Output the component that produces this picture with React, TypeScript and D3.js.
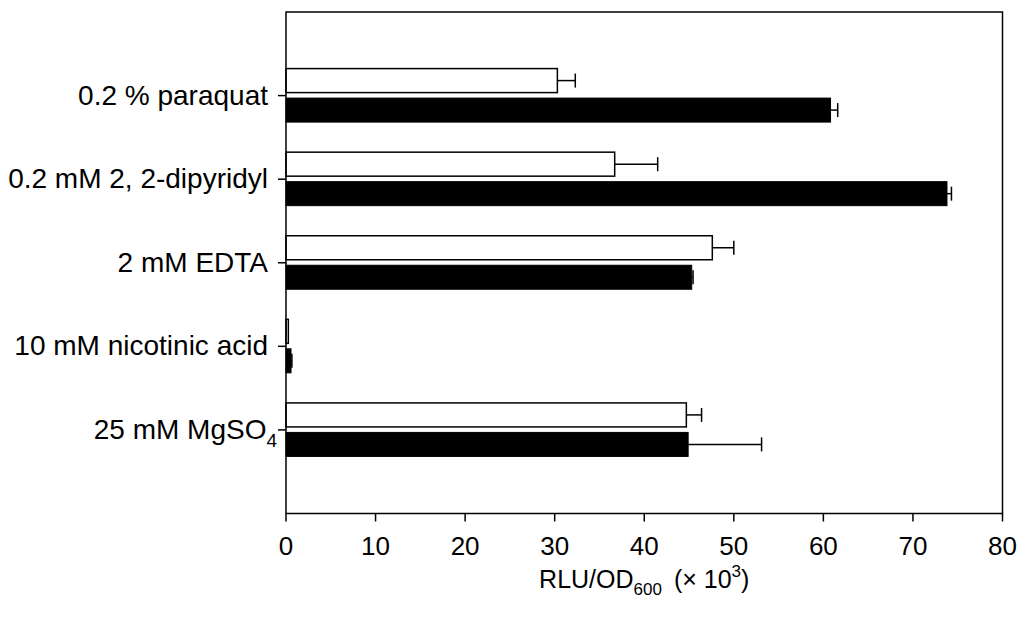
import React, { useEffect, useRef } from "react";
import * as d3 from "d3";

const categories = [
  "0.2 % paraquat",
  "0.2 mM 2, 2-dipyridyl",
  "2 mM EDTA",
  "10 mM nicotinic acid",
  "25 mM MgSO4",
];
const whiteValues = [30.3, 36.7, 47.6, 0.26, 44.7];
const whiteErrors = [2.0, 4.8, 2.4, 0, 1.7];
const blackValues = [60.8, 73.8, 45.3, 0.56, 44.9];
const blackErrors = [0.8, 0.5, 0.15, 0.1, 8.2];
const xTicks = [0, 10, 20, 30, 40, 50, 60, 70, 80];

export default function App() {
  const ref = useRef<SVGSVGElement>(null);

  const width = 1025;
  const height = 624;
  const margin = { top: 12, right: 22.5, bottom: 110.5, left: 286 };
  const font = "Liberation Sans, Arial, sans-serif";

  useEffect(() => {
    const svg = d3.select(ref.current);
    svg.selectAll("*").remove();

    const x = d3
      .scaleLinear()
      .domain([0, 80])
      .range([margin.left, width - margin.right]);
    const y = d3
      .scaleLinear()
      .domain([0, categories.length + 1])
      .range([margin.top, height - margin.bottom]);

    const barH = 24;
    const capH = 14;
    const rows = categories.map((c, i) => ({
      c,
      pos: y(i + 1),
      w: whiteValues[i],
      we: whiteErrors[i],
      b: blackValues[i],
      be: blackErrors[i],
    }));

    // error bars (drawn first so bars sit on top)
    const drawErr = (v: number, e: number, cy: number) => {
      if (e <= 0) return;
      svg.append("line")
        .attr("x1", x(v)).attr("x2", x(v + e))
        .attr("y1", cy).attr("y2", cy)
        .attr("stroke", "#000").attr("stroke-width", 1.5);
      svg.append("line")
        .attr("x1", x(v + e)).attr("x2", x(v + e))
        .attr("y1", cy - capH / 2).attr("y2", cy + capH / 2)
        .attr("stroke", "#000").attr("stroke-width", 1.5);
    };

    rows.forEach((r) => {
      drawErr(r.w, r.we, r.pos - 27 + barH / 2);
      drawErr(r.b, r.be, r.pos + 2.5 + barH / 2);

      svg.append("rect")
        .attr("x", x(0))
        .attr("y", r.pos - 27)
        .attr("width", x(r.w) - x(0))
        .attr("height", barH)
        .attr("fill", "#fff")
        .attr("stroke", "#000")
        .attr("stroke-width", 1.5);

      svg.append("rect")
        .attr("x", x(0))
        .attr("y", r.pos + 2.5)
        .attr("width", x(r.b) - x(0))
        .attr("height", barH)
        .attr("fill", "#000")
        .attr("stroke", "#000")
        .attr("stroke-width", 1);
    });

    // frame
    svg.append("rect")
      .attr("x", margin.left)
      .attr("y", margin.top)
      .attr("width", width - margin.left - margin.right)
      .attr("height", height - margin.top - margin.bottom)
      .attr("fill", "none")
      .attr("stroke", "#000")
      .attr("stroke-width", 1.5);

    // x axis
    const bottom = height - margin.bottom;
    const xg = svg.append("g");
    xTicks.forEach((t) => {
      xg.append("line")
        .attr("x1", x(t)).attr("x2", x(t))
        .attr("y1", bottom).attr("y2", bottom + 8)
        .attr("stroke", "#000").attr("stroke-width", 1.5);
      xg.append("text")
        .attr("x", x(t))
        .attr("y", bottom + 41)
        .attr("text-anchor", "middle")
        .attr("font-family", font)
        .attr("font-size", 26)
        .text(t);
    });

    // y axis ticks + labels
    rows.forEach((r) => {
      svg.append("line")
        .attr("x1", margin.left - 8).attr("x2", margin.left)
        .attr("y1", r.pos).attr("y2", r.pos)
        .attr("stroke", "#000").attr("stroke-width", 1.5);
      const isMg = r.c.endsWith("MgSO4");
      const t = svg.append("text")
        .attr("x", margin.left - (isMg ? 9 : 18))
        .attr("y", r.pos + 9)
        .attr("text-anchor", "end")
        .attr("font-family", font)
        .attr("font-size", 28);
      if (isMg) {
        t.append("tspan").text("25 mM MgSO");
        t.append("tspan").attr("font-size", 19).attr("dy", 8).text("4");
      } else {
        t.text(r.c);
      }
    });

    // x axis title
    const title = svg.append("text")
      .attr("x", (x(0) + x(80)) / 2)
      .attr("y", 588)
      .attr("text-anchor", "middle")
      .attr("font-family", font)
      .attr("font-size", 25);
    title.append("tspan").text("RLU/OD");
    title.append("tspan").attr("font-size", 17).attr("dy", 7).text("600");
    title.append("tspan").attr("dy", -7).text("\u2009 (\u00d7 10");
    title.append("tspan").attr("font-size", 17).attr("dy", -11).text("3");
    title.append("tspan").attr("dy", 11).text(")");
  }, []);

  return (
    <svg
      ref={ref}
      width={width}
      height={height}
      style={{ position: "absolute", top: 0, left: 0, background: "#fff" }}
    />
  );
}
